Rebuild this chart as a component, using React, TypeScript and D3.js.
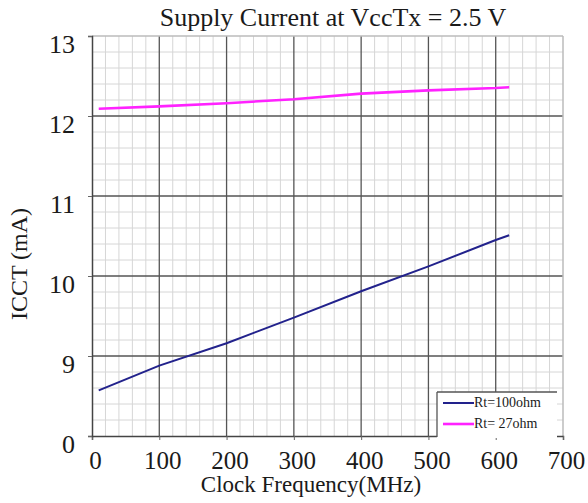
import React, { useEffect, useRef } from 'react';
import * as d3 from 'd3';

const freqs = [10, 100, 200, 300, 400, 500, 600, 620];
const rt100 = [8.57, 8.88, 9.16, 9.48, 9.81, 10.12, 10.45, 10.51];
const rt27 = [12.09, 12.12, 12.16, 12.21, 12.28, 12.32, 12.35, 12.36];
const seriesNames = ['Rt=100ohm', 'Rt= 27ohm'];
const seriesColors = ['#22228c', '#ff22ff'];
const xTicks = [0, 100, 200, 300, 400, 500, 600, 700];
const yTicks = [8, 9, 10, 11, 12, 13];
const yTickLabels = ['0', '9', '10', '11', '12', '13'];

const FONT = '"Liberation Serif", "Times New Roman", serif';

const App: React.FC = () => {
    const ref = useRef<SVGSVGElement | null>(null);

    useEffect(() => {
        if (!ref.current) return;
        const svg = d3.select(ref.current);
        svg.selectAll('*').remove();

        const left = 92, right = 563, top = 36, bottom = 436;
        const x = d3.scaleLinear().domain([0, 700]).range([left, right]);
        const y = d3.scaleLinear().domain([8, 13]).range([bottom, top]);

        svg.append('rect').attr('width', 588).attr('height', 503).attr('fill', '#fff');

        // minor grid
        const minorX = d3.range(0, 701, 20).filter((v) => v % 100 !== 0);
        const minorY = d3.range(8, 13.001, 0.2).filter((v) => Math.abs(v - Math.round(v)) > 0.01);
        const grid = svg.append('g');
        grid.selectAll('.mx').data(minorX).enter().append('line')
            .attr('x1', (d) => x(d)).attr('x2', (d) => x(d))
            .attr('y1', top).attr('y2', bottom)
            .attr('stroke', '#d6d6d6').attr('stroke-width', 1);
        grid.selectAll('.my').data(minorY).enter().append('line')
            .attr('x1', left).attr('x2', right)
            .attr('y1', (d) => y(d)).attr('y2', (d) => y(d))
            .attr('stroke', '#d6d6d6').attr('stroke-width', 1);

        // major grid
        grid.selectAll('.Mx').data(xTicks.slice(1, -1)).enter().append('line')
            .attr('x1', (d) => x(d)).attr('x2', (d) => x(d))
            .attr('y1', top).attr('y2', bottom)
            .attr('stroke', '#555').attr('stroke-width', 1.3);
        grid.selectAll('.My').data(yTicks.slice(1, -1)).enter().append('line')
            .attr('x1', left).attr('x2', right)
            .attr('y1', (d) => y(d)).attr('y2', (d) => y(d))
            .attr('stroke', '#555').attr('stroke-width', 1.3);

        // outer border (top/right light)
        grid.append('line').attr('x1', left).attr('x2', right).attr('y1', top).attr('y2', top)
            .attr('stroke', '#bbb').attr('stroke-width', 1.5);
        grid.append('line').attr('x1', right).attr('x2', right).attr('y1', top).attr('y2', bottom)
            .attr('stroke', '#bbb').attr('stroke-width', 1.5);

        // axes
        const xAxis = d3.axisBottom(x).tickValues(xTicks).tickSize(4).tickPadding(0)
            .tickFormat((d) => `${d}`);
        const gx = svg.append('g').attr('transform', `translate(0, ${bottom})`).call(xAxis);
        gx.select('.domain').attr('stroke', '#444').attr('stroke-width', 1.5);
        gx.selectAll('.tick line').attr('stroke', '#666');
        gx.selectAll('.tick text')
            .attr('font-family', FONT).attr('font-size', 25).attr('fill', '#1a1a1a')
            .attr('dy', null).attr('y', 33).attr('dx', 3);

        const yAxis = d3.axisLeft(y).tickValues(yTicks).tickSize(4).tickPadding(0)
            .tickFormat((_, i) => yTickLabels[i]);
        const gy = svg.append('g').attr('transform', `translate(${left}, 0)`).call(yAxis);
        gy.select('.domain').attr('stroke', '#444').attr('stroke-width', 1.5);
        gy.selectAll('.tick line').attr('stroke', '#666');
        gy.selectAll('.tick text')
            .attr('font-family', FONT).attr('font-size', 26).attr('fill', '#1a1a1a')
            .attr('dy', null).attr('x', -17).attr('y', 16);

        // lines
        const lineGen = d3.line<number>()
            .x((_, i) => x(freqs[i]))
            .y((d) => y(d));
        [rt100, rt27].forEach((s, i) => {
            svg.append('path').datum(s)
                .attr('d', lineGen)
                .attr('fill', 'none')
                .attr('stroke', seriesColors[i])
                .attr('stroke-width', i === 0 ? 2 : 2.6);
        });

        // legend
        const lg = svg.append('g');
        lg.append('rect').attr('x', 437).attr('y', 392).attr('width', 120).attr('height', 46)
            .attr('fill', '#fff');
        lg.append('line').attr('x1', 437).attr('x2', 557).attr('y1', 392).attr('y2', 392)
            .attr('stroke', '#555').attr('stroke-width', 1.3);
        lg.append('line').attr('x1', 437).attr('x2', 437).attr('y1', 392).attr('y2', 437)
            .attr('stroke', '#555').attr('stroke-width', 1.3);
        seriesNames.forEach((name, i) => {
            const yy = 403 + i * 21;
            lg.append('line').attr('x1', 443).attr('x2', 474).attr('y1', yy).attr('y2', yy)
                .attr('stroke', seriesColors[i]).attr('stroke-width', i === 0 ? 2 : 2.6);
            lg.append('text').attr('x', 474).attr('y', yy + 4)
                .attr('font-family', FONT).attr('font-size', 14).attr('fill', '#1a1a1a')
                .text(name);
        });

        // titles
        svg.append('text').attr('x', 333).attr('y', 26).attr('text-anchor', 'middle')
            .attr('font-family', FONT).attr('font-size', 26).attr('fill', '#1a1a1a')
            .text('Supply Current at VccTx = 2.5 V');
        svg.append('text').attr('x', 311).attr('y', 492).attr('text-anchor', 'middle')
            .attr('font-family', FONT).attr('font-size', 23).attr('fill', '#1a1a1a')
            .text('Clock Frequency(MHz)');
        svg.append('text').attr('transform', 'translate(27, 264) rotate(-90)')
            .attr('text-anchor', 'middle')
            .attr('font-family', FONT).attr('font-size', 24).attr('fill', '#1a1a1a')
            .text('ICCT (mA)');
    }, []);

    return (
        <svg ref={ref} width={588} height={503}
            style={{ position: 'absolute', left: 0, top: 0 }} />
    );
};

export default App;
